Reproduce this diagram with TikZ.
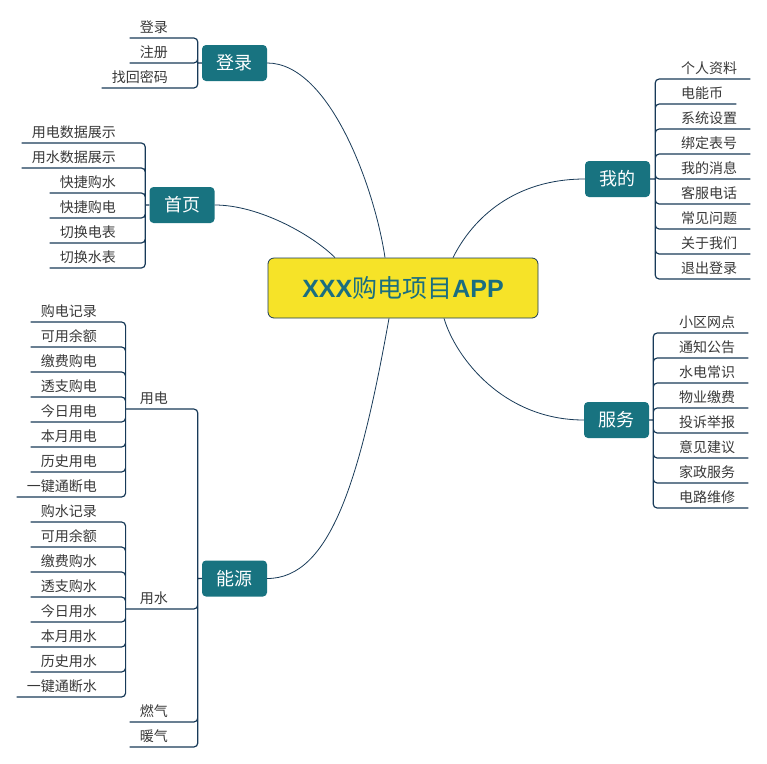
\documentclass[tikz,border=0pt]{standalone}
\usepackage{fontspec}
\setmainfont{Noto Sans CJK SC}
\newfontfamily\arialfont{Liberation Sans}
\usepackage{tikz}
\usetikzlibrary{positioning}
\definecolor{mmteal}{RGB}{24,115,128}
\definecolor{mmyellow}{RGB}{246,227,40}
\definecolor{mmline}{RGB}{24,58,88}
\definecolor{mmtext}{RGB}{56,56,56}
\definecolor{mmtitle}{RGB}{26,110,128}
\tikzset{>=latex,
  hub/.style={draw=mmline,line width=0.8pt,fill=mmyellow,rounded corners=6pt,minimum width=270pt,minimum height=60pt,inner sep=0pt,text=mmtitle,font=\fontsize{25pt}{30pt}\selectfont},
  branch/.style={fill=mmteal,rounded corners=4pt,minimum width=65pt,minimum height=36pt,inner sep=0pt,text=white,font=\fontsize{18pt}{20pt}\selectfont},
  leafL/.style={anchor=south east,inner xsep=10pt,inner ysep=2pt,text height=11pt,text depth=3pt,text=mmtext,font=\fontsize{14pt}{16pt}\selectfont},
  leafR/.style={leafL,anchor=south west,inner xsep=13pt},
  link/.style={draw=mmline,line width=1.2pt,rounded corners=4pt},
  curve/.style={draw=mmline,line width=0.8pt}}

\begin{document}
\begin{tikzpicture}[x=1pt,y=-1pt]
  \useasboundingbox (0,0) rectangle (767,763);
  \node[hub] (hub) at (403,288) {{\arialfont\bfseries XXX}购电项目{\arialfont\bfseries APP}};
  \node[branch] (login) at (234.5,63) {登录};
  \node[branch] (home) at (182,205) {首页};
  \node[branch] (mine) at (617.5,179) {我的};
  \node[branch] (serve) at (616.5,420) {服务};
  \node[branch] (energy) at (234.5,578.5) {能源};
  \draw[curve] (login.east) .. controls +(63,0) and +(-10,-68) .. ([xshift=-18pt]hub.north);
  \draw[curve] (home.east) .. controls +(45,0) and +(-22,-22) .. ([xshift=-68pt]hub.north);
  \draw[curve] (mine.west) .. controls +(-70,0) and +(20,-40) .. ([xshift=50pt]hub.north);
  \draw[curve] (serve.west) .. controls +(-80,0) and +(12,40) .. ([xshift=41pt]hub.south);
  \draw[curve] (energy.east) .. controls +(63,0) and +(-29,162) .. ([xshift=-14pt]hub.south);
  % login
  \node[leafL] (lg1) at (178,38) {登录};
  \node[leafL] (lg2) at (178,63) {注册};
  \node[leafL] (lg3) at (178,88) {找回密码};
  \draw[link] (login.west) -- ++(-4,0) coordinate (lgb)
    (lgb) |- (lg1.south east) -- (lg1.south west)
    (lgb) |- (lg2.south east) -- (lg2.south west)
    (lgb) |- (lg3.south east) -- (lg3.south west);
  % home
  \node[leafL] (hm1) at (126,143) {用电数据展示};
  \node[leafL] (hm2) at (126,168) {用水数据展示};
  \node[leafL] (hm3) at (126,193) {快捷购水};
  \node[leafL] (hm4) at (126,218) {快捷购电};
  \node[leafL] (hm5) at (126,243) {切换电表};
  \node[leafL] (hm6) at (126,268) {切换水表};
  \draw[link] (home.west) -- ++(-4,0) coordinate (hmb)
    (hmb) |- (hm1.south east) -- (hm1.south west)
    (hmb) |- (hm2.south east) -- (hm2.south west)
    (hmb) |- (hm3.south east) -- (hm3.south west)
    (hmb) |- (hm4.south east) -- (hm4.south west)
    (hmb) |- (hm5.south east) -- (hm5.south west)
    (hmb) |- (hm6.south east) -- (hm6.south west);
  % mine
  \node[leafR] (mn1) at (668,79) {个人资料};
  \node[leafR] (mn2) at (668,104) {电能币};
  \node[leafR] (mn3) at (668,129) {系统设置};
  \node[leafR] (mn4) at (668,154) {绑定表号};
  \node[leafR] (mn5) at (668,179) {我的消息};
  \node[leafR] (mn6) at (668,204) {客服电话};
  \node[leafR] (mn7) at (668,229) {常见问题};
  \node[leafR] (mn8) at (668,254) {关于我们};
  \node[leafR] (mn9) at (668,279) {退出登录};
  \draw[link] (mine.east) -- ++(5,0) coordinate (mnb)
    (mnb) |- (mn1.south west) -- (mn1.south east)
    (mnb) |- (mn2.south west) -- (mn2.south east)
    (mnb) |- (mn3.south west) -- (mn3.south east)
    (mnb) |- (mn4.south west) -- (mn4.south east)
    (mnb) |- (mn5.south west) -- (mn5.south east)
    (mnb) |- (mn6.south west) -- (mn6.south east)
    (mnb) |- (mn7.south west) -- (mn7.south east)
    (mnb) |- (mn8.south west) -- (mn8.south east)
    (mnb) |- (mn9.south west) -- (mn9.south east);
  % serve
  \node[leafR] (sv1) at (666,333) {小区网点};
  \node[leafR] (sv2) at (666,358) {通知公告};
  \node[leafR] (sv3) at (666,383) {水电常识};
  \node[leafR] (sv4) at (666,408) {物业缴费};
  \node[leafR] (sv5) at (666,433) {投诉举报};
  \node[leafR] (sv6) at (666,458) {意见建议};
  \node[leafR] (sv7) at (666,483) {家政服务};
  \node[leafR] (sv8) at (666,508) {电路维修};
  \draw[link] (serve.east) -- ++(4,0) coordinate (svb)
    (svb) |- (sv1.south west) -- (sv1.south east)
    (svb) |- (sv2.south west) -- (sv2.south east)
    (svb) |- (sv3.south west) -- (sv3.south east)
    (svb) |- (sv4.south west) -- (sv4.south east)
    (svb) |- (sv5.south west) -- (sv5.south east)
    (svb) |- (sv6.south west) -- (sv6.south east)
    (svb) |- (sv7.south west) -- (sv7.south east)
    (svb) |- (sv8.south west) -- (sv8.south east);
  % energy
  \node[leafL] (ue) at (178,409) {用电};
  \node[leafL] (uw) at (178,609) {用水};
  \node[leafL] (gas) at (178,722) {燃气};
  \node[leafL] (heat) at (178,747) {暖气};
  \draw[link] (energy.west) -- ++(-4,0) coordinate (enb)
    (enb) |- (ue.south east) -- (ue.south west) -- ++(-4,0) coordinate (ueb)
    (enb) |- (uw.south east) -- (uw.south west) -- ++(-4,0) coordinate (uwb)
    (enb) |- (gas.south east) -- (gas.south west)
    (enb) |- (heat.south east) -- (heat.south west);
  \node[leafL] (ue1) at (107,322) {购电记录};
  \node[leafL] (ue2) at (107,347) {可用余额};
  \node[leafL] (ue3) at (107,372) {缴费购电};
  \node[leafL] (ue4) at (107,397) {透支购电};
  \node[leafL] (ue5) at (107,422) {今日用电};
  \node[leafL] (ue6) at (107,447) {本月用电};
  \node[leafL] (ue7) at (107,472) {历史用电};
  \node[leafL] (ue8) at (107,497) {一键通断电};
  \draw[link] (ueb) |- (ue1.south east) -- (ue1.south west)
    (ueb) |- (ue2.south east) -- (ue2.south west)
    (ueb) |- (ue3.south east) -- (ue3.south west)
    (ueb) |- (ue4.south east) -- (ue4.south west)
    (ueb) |- (ue5.south east) -- (ue5.south west)
    (ueb) |- (ue6.south east) -- (ue6.south west)
    (ueb) |- (ue7.south east) -- (ue7.south west)
    (ueb) |- (ue8.south east) -- (ue8.south west);
  \node[leafL] (uw1) at (107,522) {购水记录};
  \node[leafL] (uw2) at (107,547) {可用余额};
  \node[leafL] (uw3) at (107,572) {缴费购水};
  \node[leafL] (uw4) at (107,597) {透支购水};
  \node[leafL] (uw5) at (107,622) {今日用水};
  \node[leafL] (uw6) at (107,647) {本月用水};
  \node[leafL] (uw7) at (107,672) {历史用水};
  \node[leafL] (uw8) at (107,697) {一键通断水};
  \draw[link] (uwb) |- (uw1.south east) -- (uw1.south west)
    (uwb) |- (uw2.south east) -- (uw2.south west)
    (uwb) |- (uw3.south east) -- (uw3.south west)
    (uwb) |- (uw4.south east) -- (uw4.south west)
    (uwb) |- (uw5.south east) -- (uw5.south west)
    (uwb) |- (uw6.south east) -- (uw6.south west)
    (uwb) |- (uw7.south east) -- (uw7.south west)
    (uwb) |- (uw8.south east) -- (uw8.south west);
\end{tikzpicture}
\end{document}
